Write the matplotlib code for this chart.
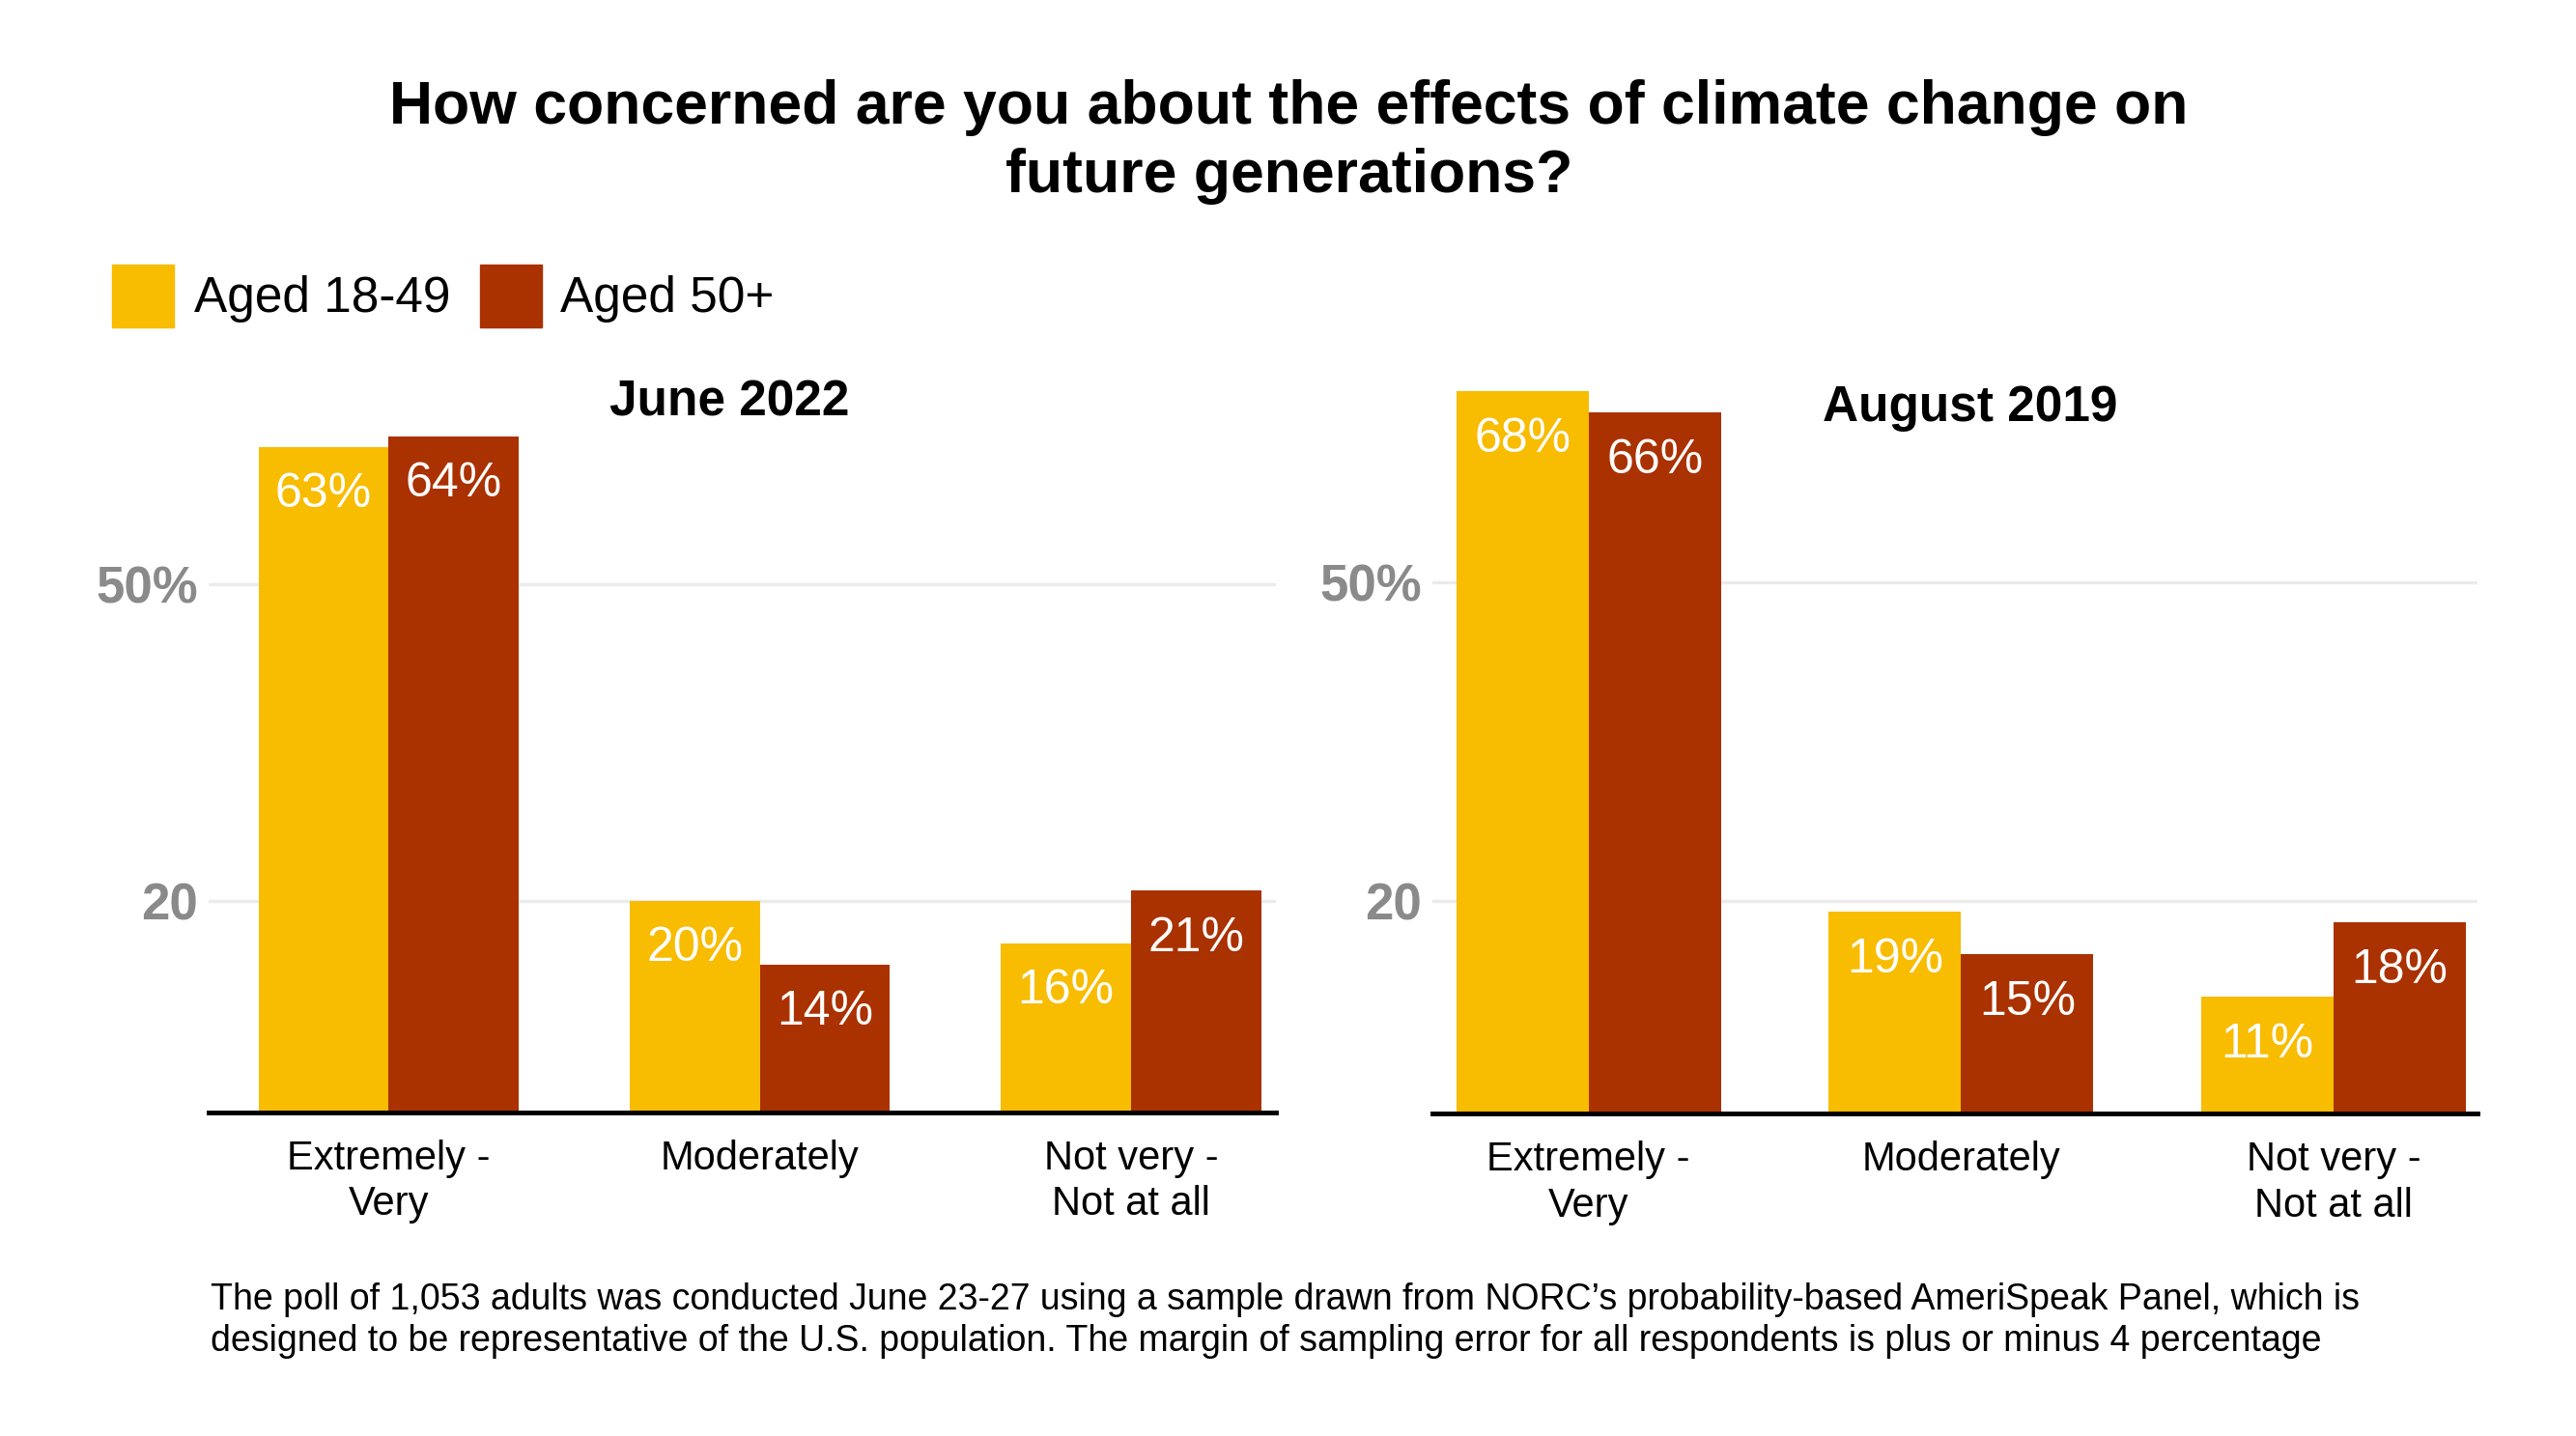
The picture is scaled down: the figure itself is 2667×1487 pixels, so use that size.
import matplotlib.pyplot as plt

plt.rcParams['font.family'] = ['Liberation Sans', 'DejaVu Sans']

categories = ["Extremely -\nVery", "Moderately", "Not very -\nNot at all"]
series_names = ["Aged 18-49", "Aged 50+"]
june_young = [63, 20, 16]
june_old = [64, 14, 21]
aug_young = [68, 19, 11]
aug_old = [66, 15, 18]
ytick_values = [20, 50]
ytick_labels = ["20", "50%"]

YELLOW = "#F8BC00"
RED = "#AA3100"
GRID = "#EBEBEB"
TICKGRAY = "#8A8A8A"

fig = plt.figure(figsize=(26.67, 14.87), dpi=100)
fig.patch.set_facecolor("white")


def draw_panel(ax, young, old, title, xlim, width, title_xy):
    x = list(range(len(categories)))
    ax.bar([i - width / 2 for i in x], young, width, color=YELLOW, zorder=3)
    ax.bar([i + width / 2 for i in x], old, width, color=RED, zorder=3)

    for i, v in enumerate(young):
        ax.annotate(f"{v}%", (i - width / 2, v), xytext=(0, -19),
                    textcoords="offset points", ha="center", va="top",
                    color="white", fontsize=36, zorder=4)
    for i, v in enumerate(old):
        ax.annotate(f"{v}%", (i + width / 2, v), xytext=(0, -19),
                    textcoords="offset points", ha="center", va="top",
                    color="white", fontsize=36, zorder=4)

    ax.set_xlim(*xlim)
    ax.set_ylim(0, 75)
    ax.set_xticks(x)
    ax.set_xticklabels(categories, fontsize=30, linespacing=1.25)
    ax.set_yticks(ytick_values)
    ax.set_yticklabels(ytick_labels, fontsize=38, fontweight="bold",
                       color=TICKGRAY)
    ax.tick_params(axis="both", length=0)
    ax.tick_params(axis="x", pad=20)
    ax.tick_params(axis="y", pad=8)
    ax.grid(axis="y", color=GRID, linewidth=2.5, zorder=0)
    for side in ["top", "right", "left"]:
        ax.spines[side].set_visible(False)
    ax.spines["bottom"].set_linewidth(3.5)
    ax.spines["bottom"].set_color("black")
    ax.spines["bottom"].set_zorder(5)

    fig.text(title_xy[0], title_xy[1], title, ha="center", va="center",
             fontsize=37, fontweight="bold")


ax1 = fig.add_axes([0.081, 0.2254, 0.4145, 0.5517])
draw_panel(ax1, june_young, june_old, "June 2022",
           (-0.4845, 2.3916), 0.35, (0.2832, 0.7197))

ax2 = fig.add_axes([0.5561, 0.2243, 0.4056, 0.555])
draw_panel(ax2, aug_young, aug_old, "August 2019",
           (-0.419, 2.386), 0.355, (0.7647, 0.716))

# title
fig.text(0.5003, 0.901,
         "How concerned are you about the effects of climate change on\nfuture generations?",
         ha="center", va="center", fontsize=45, fontweight="bold",
         linespacing=1.26)

# legend
sq_w = 38 / 1568
sq_h = 38 / 874
for x0, tx, color, name in [(0.0434, 0.0753, YELLOW, series_names[0]),
                            (0.1862, 0.2175, RED, series_names[1])]:
    fig.patches.append(plt.Rectangle((x0, 0.794 - sq_h / 2), sq_w, sq_h,
                                     transform=fig.transFigure,
                                     color=color, figure=fig))
    fig.text(tx, 0.792, name, ha="left", va="center", fontsize=37)

# footnote
fig.text(0.0816, 0.107,
         "The poll of 1,053 adults was conducted June 23-27 using a sample drawn from NORC\u2019s probability-based AmeriSpeak Panel, which is\n"
         "designed to be representative of the U.S. population. The margin of sampling error for all respondents is plus or minus 4 percentage",
         ha="left", va="top", fontsize=27, linespacing=1.25)

fig.savefig("out.png", dpi=100)
plt.close(fig)
